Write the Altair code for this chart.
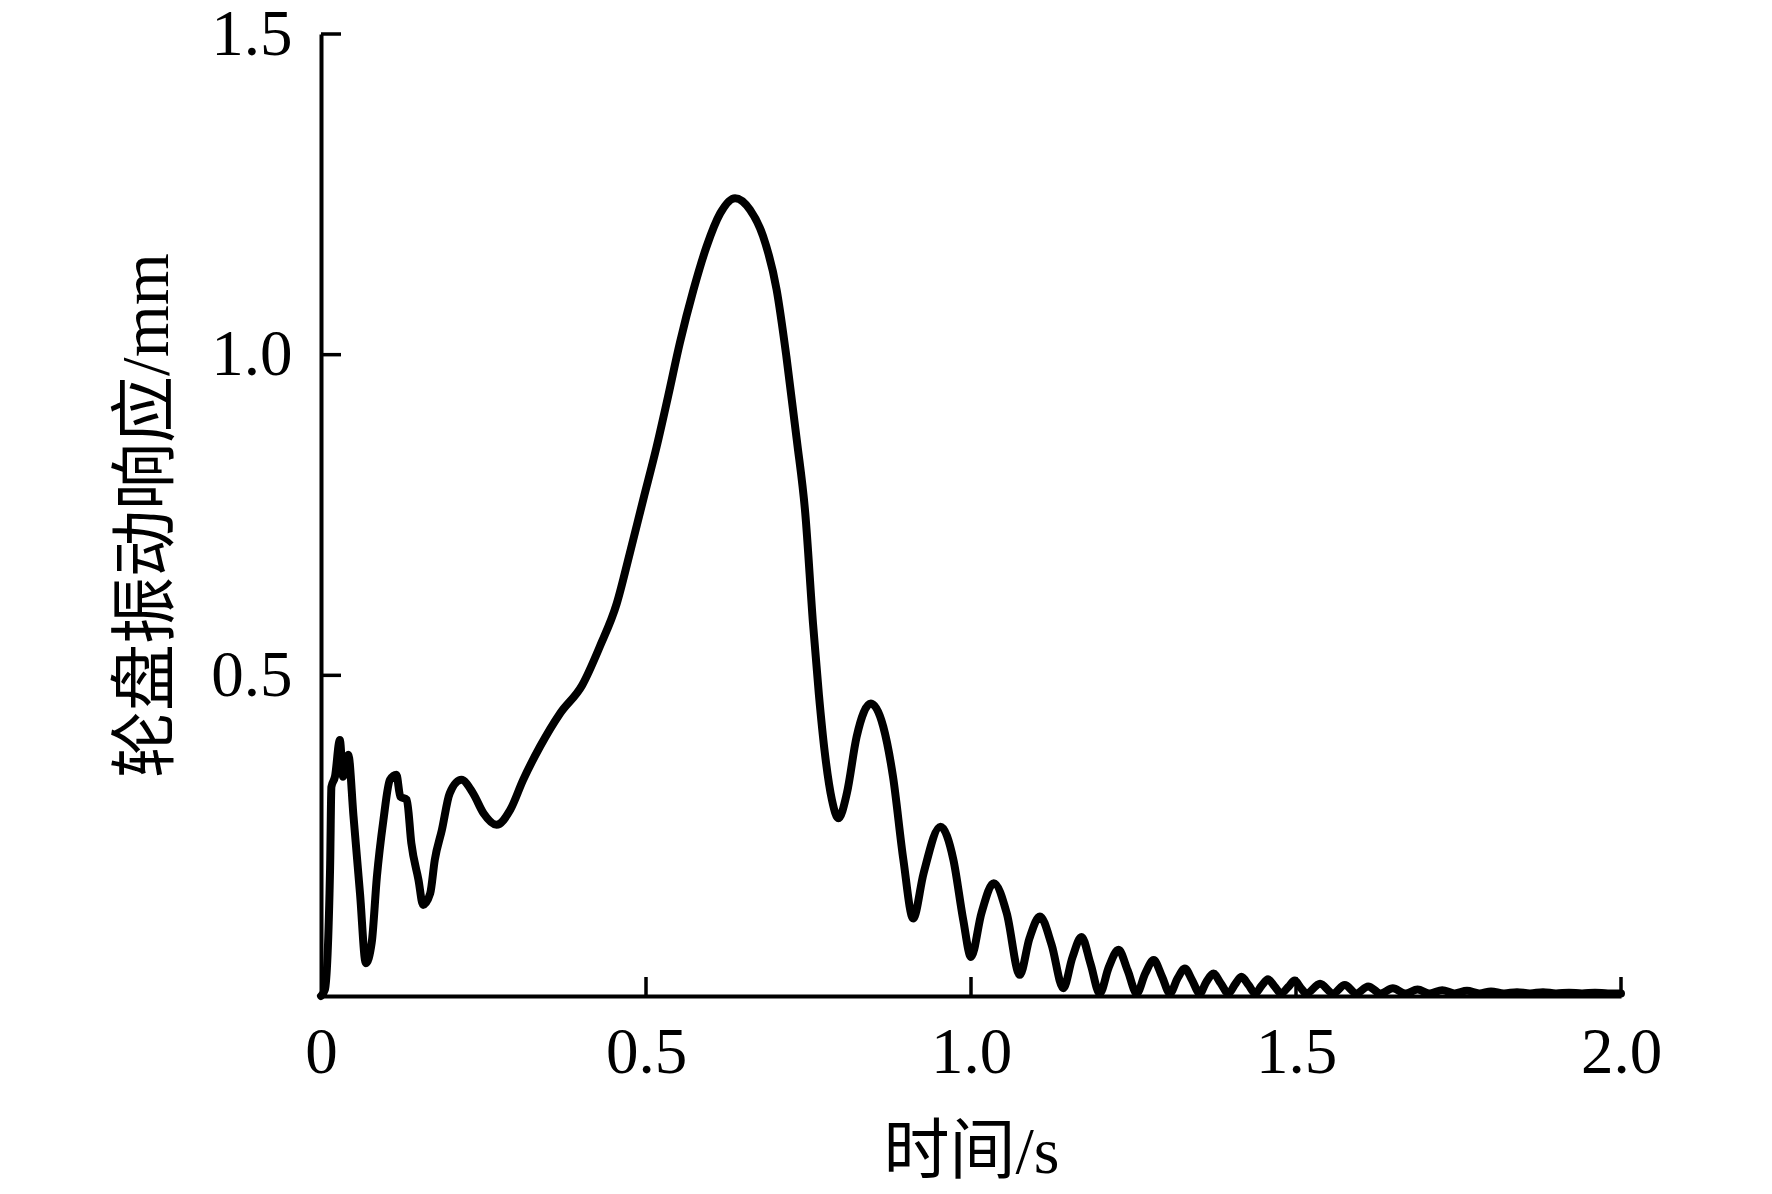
import altair as alt
import pandas as pd

# time (s) and wheel-disc vibration response (mm)
t_vals = [0.000, 0.006, 0.014, 0.016, 0.0215, 0.029, 0.034, 0.042, 0.050, 0.060,
          0.069, 0.078, 0.086, 0.096, 0.106, 0.116, 0.122, 0.132, 0.139, 0.150,
          0.157, 0.168, 0.175, 0.186, 0.198, 0.216, 0.234, 0.250, 0.270, 0.291,
          0.311, 0.337, 0.368, 0.402, 0.429, 0.455, 0.475, 0.496, 0.516, 0.534,
          0.552, 0.573, 0.593, 0.614, 0.637, 0.660, 0.680, 0.701, 0.716, 0.732,
          0.745, 0.757, 0.766, 0.775, 0.786, 0.796, 0.809, 0.824, 0.846, 0.865,
          0.880, 0.896, 0.911, 0.927, 0.953, 0.973, 0.988, 1.000, 1.016, 1.035,
          1.055, 1.075, 1.090, 1.106, 1.124, 1.142, 1.156, 1.170, 1.184, 1.198,
          1.212, 1.227, 1.241, 1.255, 1.268, 1.281, 1.294, 1.306, 1.318, 1.329,
          1.340, 1.352, 1.362, 1.373, 1.384, 1.396, 1.406, 1.416, 1.427, 1.437,
          1.447, 1.457, 1.467, 1.477, 1.488, 1.498, 1.507, 1.516, 1.537, 1.557,
          1.575, 1.593, 1.611, 1.630, 1.649, 1.668, 1.687, 1.706, 1.725, 1.744,
          1.763, 1.782, 1.800, 1.820, 1.840, 1.860, 1.880, 1.900, 1.920, 1.940,
          1.960, 1.980, 2.000]
v_vals = [0.000, 0.010, 0.200, 0.326, 0.342, 0.399, 0.342, 0.376, 0.280, 0.160,
          0.051, 0.083, 0.186, 0.274, 0.337, 0.345, 0.311, 0.306, 0.238, 0.181,
          0.142, 0.160, 0.212, 0.259, 0.316, 0.337, 0.316, 0.285, 0.267, 0.290,
          0.337, 0.389, 0.441, 0.485, 0.545, 0.612, 0.690, 0.775, 0.855, 0.935,
          1.018, 1.101, 1.168, 1.220, 1.244, 1.226, 1.185, 1.101, 0.997, 0.867,
          0.753, 0.580, 0.470, 0.380, 0.306, 0.277, 0.316, 0.404, 0.456, 0.420,
          0.342, 0.212, 0.121, 0.191, 0.264, 0.212, 0.119, 0.061, 0.129, 0.176,
          0.129, 0.033, 0.090, 0.124, 0.080, 0.012, 0.060, 0.092, 0.050, 0.004,
          0.045, 0.072, 0.040, 0.004, 0.035, 0.056, 0.030, 0.004, 0.028, 0.043,
          0.025, 0.004, 0.022, 0.035, 0.020, 0.004, 0.018, 0.030, 0.017, 0.004,
          0.016, 0.026, 0.015, 0.004, 0.014, 0.024, 0.013, 0.004, 0.019, 0.004,
          0.017, 0.004, 0.015, 0.004, 0.012, 0.004, 0.010, 0.004, 0.009, 0.004,
          0.008, 0.004, 0.007, 0.004, 0.006, 0.004, 0.006, 0.004, 0.005, 0.004,
          0.005, 0.004, 0.004]

x_ticks = [0.0, 0.5, 1.0, 1.5, 2.0]
y_ticks = [0.0, 0.5, 1.0, 1.5]
x_inner_ticks = [0.5, 1.0, 1.5, 2.0]
y_inner_ticks = [0.5, 1.0, 1.5]

x_title = "时间/s"
y_title = "轮盘振动响应/mm"

W, H = 1300, 962
LATIN = "Liberation Serif"
MIXED = "Liberation Serif, Noto Sans CJK SC"

df = pd.DataFrame({"t": t_vals, "v": v_vals})
xt = pd.DataFrame({"t": x_inner_ticks})
yt = pd.DataFrame({"v": y_inner_ticks})

xscale = alt.Scale(domain=[0, 2.0], nice=False, zero=False)
yscale = alt.Scale(domain=[0, 1.5], nice=False, zero=False)

x_axis = alt.Axis(values=x_ticks, labelExpr="datum.value == 0 ? '0' : format(datum.value, '.1f')",
                  grid=False, ticks=False, tickSize=0, domainColor="black", domainWidth=4,
                  labelFont=LATIN, labelFontSize=65, labelColor="black", labelPadding=25,
                  labelFlush=False, labelOverlap=False,
                  title=x_title, titleFont=MIXED, titleFontSize=66, titleFontWeight="normal",
                  titleColor="black", titleX=W / 2, titleY=156, titleBaseline="middle",
                  titleAlign="center")
y_axis = alt.Axis(values=y_ticks, labelExpr="datum.value == 0 ? '' : format(datum.value, '.1f')",
                  grid=False, ticks=False, tickSize=0, domainColor="black", domainWidth=4,
                  labelFont=LATIN, labelFontSize=65, labelColor="black", labelPadding=29,
                  labelFlush=False, labelOverlap=False,
                  title=y_title, titleFont=MIXED, titleFontSize=67, titleFontWeight="normal",
                  titleColor="black", titleX=-174, titleY=H / 2, titleBaseline="middle",
                  titleAlign="center", titleAngle=270)

line = alt.Chart(df).mark_line(color="black", strokeWidth=8, interpolate="monotone",
                               strokeJoin="round", strokeCap="round").encode(
    x=alt.X("t:Q", scale=xscale, axis=x_axis),
    y=alt.Y("v:Q", scale=yscale, axis=y_axis),
)

xtick_layer = alt.Chart(xt).mark_rule(color="black", strokeWidth=3.5).encode(
    x=alt.X("t:Q", scale=xscale),
    y=alt.value(H),
    y2=alt.value(H - 19),
)
ytick_layer = alt.Chart(yt).mark_rule(color="black", strokeWidth=3.5).encode(
    y=alt.Y("v:Q", scale=yscale),
    x=alt.value(0),
    x2=alt.value(20),
)

chart = alt.layer(line, xtick_layer, ytick_layer).properties(
    width=W, height=H,
    autosize=alt.AutoSizeParams(type="none"),
    padding={"left": 313, "top": 26, "right": 143, "bottom": 190},
    background="white",
).configure_view(strokeWidth=0)

chart.save("out.html", embed_options={"renderer": "svg", "actions": False})
